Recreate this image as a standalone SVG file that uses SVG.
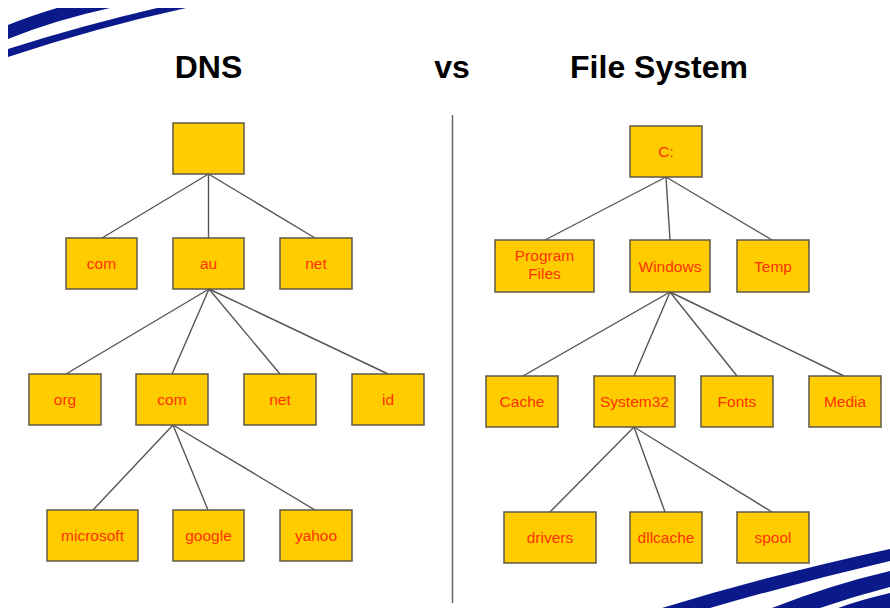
<svg xmlns="http://www.w3.org/2000/svg" width="890" height="608" viewBox="0 0 890 608">
  <style>
    .box rect { fill: #ffcc00; stroke: #5e5a48; stroke-width: 1.5; }
    .box text { fill: #ff3300; font-family: "Liberation Sans", Arial, sans-serif; font-size: 15.5px; text-anchor: middle; }
    .title { fill: #000; font-family: "Liberation Sans", Arial, sans-serif; font-size: 32px; font-weight: bold; text-anchor: middle; }
    .edges line { stroke: #555; stroke-width: 1.4; }
    .swoosh { fill: #0b1a8a; }
  </style>

  <rect width="890" height="608" fill="#fff"/>

  <!-- decorative swooshes -->
  <g id="swoosh-top">
    <path class="swoosh" d="M8,25 Q30,16 57,8 L110,8 Q55,20 8,39 Z"/>
    <path class="swoosh" d="M8,49 Q80,26 157,8 L186,8 Q95,28 8,57 Z"/>
  </g>
  <g id="swoosh-bottom">
    <path class="swoosh" d="M890,549 Q770,575 662,608 L710,608 Q800,582 890,561 Z"/>
    <path class="swoosh" d="M890,571 Q830,585 772,608 L820,608 Q855,596 890,587 Z"/>
    <path class="swoosh" d="M890,593 Q860,600 838,608 L890,608 Z"/>
  </g>

  <!-- headings -->
  <text class="title" x="208.5" y="78">DNS</text>
  <text class="title" x="452" y="78">vs</text>
  <text class="title" x="659" y="78">File System</text>

  <!-- divider -->
  <line x1="452.5" y1="115" x2="452.5" y2="603" stroke="#666" stroke-width="1.5"/>

  <!-- connectors -->
  <g id="connectors" class="edges">
    <!-- DNS tree -->
    <line x1="208.5" y1="174" x2="102" y2="238"/>
    <line x1="208.5" y1="174" x2="208.5" y2="238"/>
    <line x1="208.5" y1="174" x2="315" y2="238"/>
    <line x1="209" y1="289" x2="66" y2="374"/>
    <line x1="209" y1="289" x2="172" y2="374"/>
    <line x1="209" y1="289" x2="280" y2="374"/>
    <line x1="209" y1="289" x2="388" y2="374"/>
    <line x1="173" y1="425" x2="93" y2="510"/>
    <line x1="173" y1="425" x2="208" y2="510"/>
    <line x1="173" y1="425" x2="315" y2="510"/>
    <!-- file system tree -->
    <line x1="666" y1="177" x2="545" y2="240"/>
    <line x1="666" y1="177" x2="670" y2="240"/>
    <line x1="666" y1="177" x2="772" y2="240"/>
    <line x1="670" y1="292" x2="523" y2="376"/>
    <line x1="670" y1="292" x2="634" y2="376"/>
    <line x1="670" y1="292" x2="737" y2="376"/>
    <line x1="670" y1="292" x2="844" y2="376"/>
    <line x1="634" y1="427" x2="550" y2="512"/>
    <line x1="634" y1="427" x2="665" y2="512"/>
    <line x1="634" y1="427" x2="772" y2="512"/>
  </g>

  <!-- DNS nodes -->
  <g id="dns-root" class="box"><rect x="173" y="123" width="71" height="51"/></g>
  <g id="dns-com" class="box"><rect x="66" y="238" width="71" height="51"/><text x="101.5" y="269">com</text></g>
  <g id="dns-au" class="box"><rect x="173" y="238" width="71" height="51"/><text x="208.5" y="269">au</text></g>
  <g id="dns-net" class="box"><rect x="280" y="238" width="72" height="51"/><text x="316" y="269">net</text></g>
  <g id="dns-au-org" class="box"><rect x="29" y="374" width="72" height="51"/><text x="65" y="405">org</text></g>
  <g id="dns-au-com" class="box"><rect x="136" y="374" width="72" height="51"/><text x="172" y="405">com</text></g>
  <g id="dns-au-net" class="box"><rect x="244" y="374" width="72" height="51"/><text x="280" y="405">net</text></g>
  <g id="dns-au-id" class="box"><rect x="352" y="374" width="72" height="51"/><text x="388" y="405">id</text></g>
  <g id="dns-microsoft" class="box"><rect x="47" y="510" width="91" height="51"/><text x="92.5" y="541">microsoft</text></g>
  <g id="dns-google" class="box"><rect x="173" y="510" width="71" height="51"/><text x="208.5" y="541">google</text></g>
  <g id="dns-yahoo" class="box"><rect x="280" y="510" width="72" height="51"/><text x="316" y="541">yahoo</text></g>

  <!-- file system nodes -->
  <g id="fs-c" class="box"><rect x="630" y="126" width="72" height="51"/><text x="666" y="157">C:</text></g>
  <g id="fs-program-files" class="box"><rect x="495" y="240" width="99" height="52"/><text x="544.5" y="261">Program</text><text x="544.5" y="279">Files</text></g>
  <g id="fs-windows" class="box"><rect x="630" y="240" width="80" height="52"/><text x="670" y="271.5">Windows</text></g>
  <g id="fs-temp" class="box"><rect x="737" y="240" width="72" height="52"/><text x="773" y="271.5">Temp</text></g>
  <g id="fs-cache" class="box"><rect x="486" y="376" width="72" height="51"/><text x="522" y="407">Cache</text></g>
  <g id="fs-system32" class="box"><rect x="594" y="376" width="81" height="51"/><text x="634.5" y="407">System32</text></g>
  <g id="fs-fonts" class="box"><rect x="701" y="376" width="72" height="51"/><text x="737" y="407">Fonts</text></g>
  <g id="fs-media" class="box"><rect x="809" y="376" width="72" height="51"/><text x="845" y="407">Media</text></g>
  <g id="fs-drivers" class="box"><rect x="504" y="512" width="92" height="51"/><text x="550" y="543">drivers</text></g>
  <g id="fs-dllcache" class="box"><rect x="630" y="512" width="72" height="51"/><text x="666" y="543">dllcache</text></g>
  <g id="fs-spool" class="box"><rect x="737" y="512" width="72" height="51"/><text x="773" y="543">spool</text></g>
</svg>
